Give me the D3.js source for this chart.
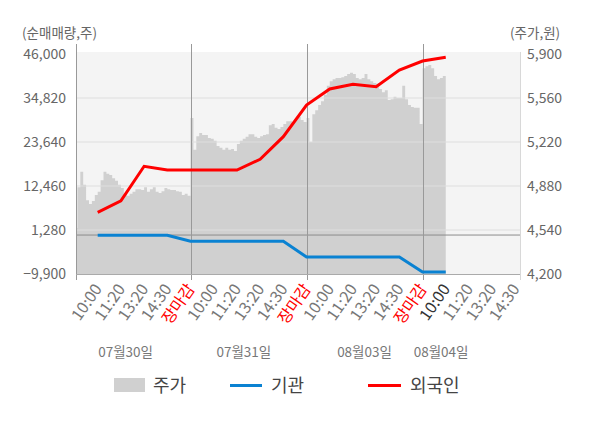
<!DOCTYPE html>
<html>
<head>
<meta charset="utf-8">
<script src="https://cdn.jsdelivr.net/npm/d3@7"></script>
<style>
    body { margin: 0; background: #fff; }
    text { font-family: "Noto Sans CJK KR", "Noto Sans", sans-serif; }
</style>
</head>
<body>
<div id="chart"></div>
<script>

// ---- data ----
const dayLabels = ["07월30일", "07월31일", "08월03일", "08월04일"];
const timeLabels = ["10:00", "11:20", "13:20", "14:30", "장마감"];
const leftTicks = [-9900, 1280, 12460, 23640, 34820, 46000];
const rightTicks = [4200, 4540, 4880, 5220, 5560, 5900];

// net buying (shares) at 10:00, 11:20, 13:20, 14:30, close ... 08/04 10:00
const foreignNet = [5780, 8720, 17470, 16520, 16520, 16520, 16520, 19240, 24990, 33040,
                    37110, 38300, 37690, 41930, 44220, 45160];
const instNet = [-80, -80, -80, -80, -1590, -1590, -1590, -1590, -1590, -5580,
                 -5580, -5580, -5580, -5580, -9400, -9400];

// intraday price (won), evenly sampled through each session
const priceDay1 = [4555, 4870, 4990, 4890, 4770, 4740, 4765, 4810, 4835, 4925, 4990, 4975, 4965, 4940,
                   4920, 4890, 4865, 4820, 4805, 4820, 4835, 4855, 4855, 4850, 4870, 4835, 4855, 4870,
                   4835, 4825, 4840, 4865, 4855, 4850, 4850, 4840, 4835, 4810, 4820, 4805, 4805];
const priceDay2 = [5405, 5160, 5265, 5290, 5275, 5275, 5250, 5245, 5230, 5190, 5175, 5160, 5175, 5160,
                   5165, 5150, 5205, 5230, 5245, 5260, 5280, 5280, 5260, 5250, 5265, 5275, 5280, 5350,
                   5360, 5330, 5320, 5335, 5360, 5380, 5380, 5365, 5390, 5415, 5390, 5375, 5365];
const priceDay3 = [5405, 5220, 5435, 5465, 5505, 5535, 5585, 5655, 5690, 5705, 5715, 5715, 5720, 5730,
                   5745, 5755, 5745, 5715, 5705, 5715, 5745, 5705, 5690, 5675, 5670, 5630, 5605, 5620,
                   5545, 5550, 5570, 5560, 5560, 5655, 5550, 5505, 5490, 5485, 5485, 5360, 5350];
// 08/04 only up to 10:00
const priceDay4 = [5790, 5805, 5815, 5790, 5730, 5705, 5715, 5730, 5740];

// ---- layout ----
const width = 600, height = 428;
const plotLeft = 76, plotRight = 520, plotTop = 54, plotBottom = 274;

const svg = d3.select("#chart").append("svg")
    .attr("width", width)
    .attr("height", height);

// one slot per time label, 5 slots per session
const xScale = d3.scaleLinear().domain([0, 19.2]).range([74.5, plotRight]);
const yLeft = d3.scaleLinear().domain([leftTicks[0], leftTicks[leftTicks.length - 1]]).range([plotBottom, plotTop]);
const yRight = d3.scaleLinear().domain([rightTicks[0], rightTicks[rightTicks.length - 1]]).range([plotBottom, plotTop]);

svg.append("rect")
    .attr("x", plotLeft).attr("y", plotTop - 2)
    .attr("width", plotRight - plotLeft).attr("height", plotBottom - plotTop + 2)
    .attr("fill", "#f4f4f4");

svg.append("clipPath").attr("id", "plotClip")
    .append("rect")
    .attr("x", plotLeft).attr("y", plotTop - 2)
    .attr("width", plotRight - plotLeft).attr("height", plotBottom - plotTop + 2);

// price points, positioned within their session
let pricePoints = [];
[priceDay1, priceDay2, priceDay3].forEach(function (prices, d) {
    prices.forEach(function (p, i) {
        pricePoints.push({ "pos": d * 5 + 5 * i / (prices.length - 1), "price": p });
    });
});
priceDay4.forEach(function (p, i) {
    pricePoints.push({ "pos": 15 + i / (priceDay4.length - 1), "price": p });
});

let area = d3.area()
    .curve(d3.curveStepAfter)
    .x((d) => xScale(d.pos))
    .y0(plotBottom)
    .y1((d) => yRight(d.price));

svg.append("path")
    .datum(pricePoints)
    .attr("clip-path", "url(#plotClip)")
    .attr("fill", "#d0d0d0")
    .attr("d", area);

// gridlines
svg.append("g").selectAll("line")
    .data(leftTicks.slice(1, -1))
    .enter().append("line")
    .attr("x1", plotLeft).attr("x2", plotRight)
    .attr("y1", (d) => yLeft(d)).attr("y2", (d) => yLeft(d))
    .attr("stroke", "#dedede")
    .attr("stroke-width", 1);

// zero line
svg.append("line")
    .attr("x1", plotLeft).attr("x2", plotRight)
    .attr("y1", yLeft(0)).attr("y2", yLeft(0))
    .attr("stroke", "#8c8c8c");

// session separators
svg.append("g").selectAll("line")
    .data([0.07, 5, 10, 15])
    .enter().append("line")
    .attr("x1", (d) => Math.round(xScale(d)) + 0.5).attr("x2", (d) => Math.round(xScale(d)) + 0.5)
    .attr("y1", 44).attr("y2", 280)
    .attr("stroke", "#999");

svg.append("line")
    .attr("x1", plotRight + 0.5).attr("x2", plotRight + 0.5)
    .attr("y1", plotTop - 2).attr("y2", 280)
    .attr("stroke", "#d8d8d8");

svg.append("line")
    .attr("x1", plotLeft).attr("x2", plotRight)
    .attr("y1", plotBottom + 0.5).attr("y2", plotBottom + 0.5)
    .attr("stroke", "#aaa");

// net buying lines
let points = (arr) => arr.map((v, i) => ({ "k": i + 1, "v": v }));
let line = d3.line()
    .x((d) => xScale(d.k))
    .y((d) => yLeft(d.v));

svg.append("path")
    .datum(points(instNet))
    .attr("fill", "none")
    .attr("stroke", "#0a82d2")
    .attr("stroke-width", 3)
    .attr("d", line);

svg.append("path")
    .datum(points(foreignNet))
    .attr("fill", "none")
    .attr("stroke", "#ff0000")
    .attr("stroke-width", 3)
    .attr("d", line);

// y axes
let gLeft = svg.append("g")
    .attr("transform", "translate(" + 66 + ",0)")
    .call(d3.axisLeft(yLeft).tickValues(leftTicks).tickSize(0).tickFormat(d3.format(",")));
gLeft.select(".domain").remove();

let gRight = svg.append("g")
    .attr("transform", "translate(" + 527 + ",0)")
    .call(d3.axisRight(yRight).tickValues(rightTicks).tickSize(0).tickFormat(d3.format(",")));
gRight.select(".domain").remove();

svg.selectAll(".tick text")
    .attr("x", 0)
    .attr("fill", "#666")
    .style("font-size", "14px")
    .style("font-family", "'Noto Sans CJK KR', sans-serif");

svg.append("text")
    .attr("x", 22).attr("y", 38)
    .attr("fill", "#666")
    .style("font-size", "13.5px")
    .text("(순매매량,주)");

svg.append("text")
    .attr("x", 510).attr("y", 38)
    .attr("fill", "#666")
    .style("font-size", "13.5px")
    .text("(주가,원)");

// x labels
let xLabels = [];
for (let k = 1; k <= 19; k++)
    xLabels.push({ "k": k, "text": timeLabels[(k - 1) % 5] });

svg.append("g").selectAll("text")
    .data(xLabels)
    .enter().append("text")
    .attr("transform", (d) => "translate(" + (xScale(d.k) + 5) + "," + 289 + ") rotate(-55)")
    .attr("text-anchor", "end")
    .attr("fill", (d) => d.text === "장마감" ? "#ff0000" : (d.k === 16 ? "#333" : "#777"))
    .style("font-size", "16px")
    .text((d) => d.text);

// session date labels
const dayLabelSlots = [2.2, 7.3, 12.5, 15.8];
svg.append("g").selectAll("text")
    .data(dayLabels)
    .enter().append("text")
    .attr("x", (d, i) => xScale(dayLabelSlots[i]))
    .attr("y", 357)
    .attr("text-anchor", "middle")
    .attr("fill", "#777")
    .style("font-size", "13.5px")
    .text((d) => d);

// legend
let legend = svg.append("g");
legend.append("rect")
    .attr("x", 114).attr("y", 378).attr("width", 31).attr("height", 14)
    .attr("fill", "#d0d0d0");
legend.append("line")
    .attr("x1", 230).attr("x2", 262).attr("y1", 385.5).attr("y2", 385.5)
    .attr("stroke", "#0a82d2").attr("stroke-width", 3);
legend.append("line")
    .attr("x1", 368).attr("x2", 401).attr("y1", 385.5).attr("y2", 385.5)
    .attr("stroke", "#ff0000").attr("stroke-width", 3);
legend.selectAll("text")
    .data([["주가", 153], ["기관", 271], ["외국인", 410]])
    .enter().append("text")
    .attr("x", (d) => d[1]).attr("y", 392)
    .attr("fill", "#444")
    .style("font-size", "18px")
    .text((d) => d[0]);

</script>
</body>
</html>
